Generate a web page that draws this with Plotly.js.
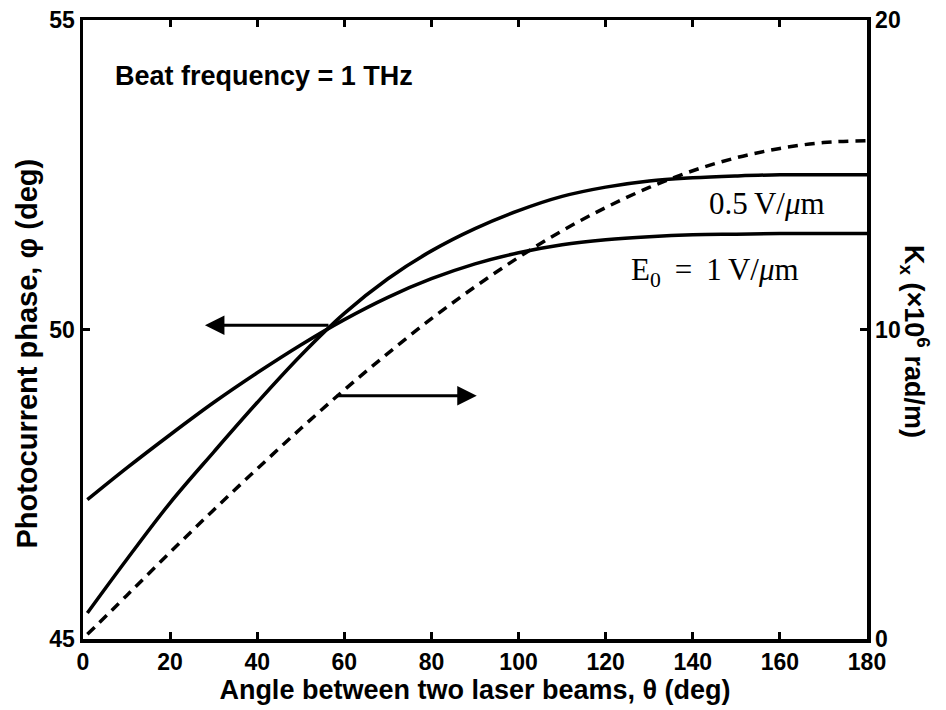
<!DOCTYPE html>
<html>
<head>
<meta charset="utf-8">
<script src="https://cdn.plot.ly/plotly-3.0.1.min.js"></script>
<style>html,body{margin:0;padding:0;background:#fff;}#chart{width:946px;height:710px;}</style>
</head>
<body>
<div id="chart"></div>
<script>
// Angle between two laser beams (deg)
const theta = [1, 10, 20, 30, 40, 50, 60, 70, 80, 90, 100, 110, 120, 130, 140, 150, 160, 170, 180];
// Photocurrent phase (deg), E0 = 1 V/um
const phaseE1 = [47.25, 47.76, 48.30, 48.82, 49.30, 49.75, 50.16, 50.52, 50.82, 51.06, 51.24, 51.37, 51.45, 51.50, 51.53, 51.54, 51.55, 51.55, 51.55];
// Photocurrent phase (deg), 0.5 V/um
const phaseE05 = [45.42, 46.28, 47.20, 48.02, 48.82, 49.58, 50.26, 50.82, 51.27, 51.63, 51.92, 52.15, 52.30, 52.40, 52.45, 52.48, 52.50, 52.50, 52.50];
// Kx (x10^6 rad/m)
const kx = [0.15, 1.40, 2.80, 4.17, 5.50, 6.80, 8.05, 9.23, 10.35, 11.38, 12.33, 13.19, 13.94, 14.59, 15.13, 15.55, 15.85, 16.04, 16.10];

const xTicks = [0, 20, 40, 60, 80, 100, 120, 140, 160, 180];
const yTicks = [45, 50, 55];
const y2Ticks = [0, 10, 20];

const SANS = 'Liberation Sans, Arial, sans-serif';
const SERIF = 'Liberation Serif, DejaVu Serif, serif';
const bold = v => '<b>' + v + '</b>';

const data = [
  {x: theta, y: phaseE1, type: 'scatter', mode: 'lines', line: {color: '#000', width: 3.5, shape: 'spline', smoothing: 1}, yaxis: 'y', hoverinfo: 'skip'},
  {x: theta, y: phaseE05, type: 'scatter', mode: 'lines', line: {color: '#000', width: 3.5, shape: 'spline', smoothing: 1}, yaxis: 'y', hoverinfo: 'skip'},
  {x: theta, y: kx, type: 'scatter', mode: 'lines', line: {color: '#000', width: 3.5, dash: '10px,7px', shape: 'spline', smoothing: 1}, yaxis: 'y2', hoverinfo: 'skip'}
];

const tickFont = {family: SANS, size: 23, color: '#000', weight: 700};

const layout = {
  width: 946, height: 710,
  margin: {l: 83, r: 79, t: 20, b: 71, pad: 0},
  paper_bgcolor: '#fff', plot_bgcolor: '#fff',
  showlegend: false,
  xaxis: {
    range: [0, 180], tickvals: xTicks, ticktext: xTicks.map(bold),
    ticks: 'inside', ticklen: 7, tickwidth: 3, tickcolor: '#000',
    showline: true, linewidth: 3.5, linecolor: '#000', mirror: 'ticks',
    showgrid: false, zeroline: false, tickfont: tickFont, automargin: false,
    title: {text: '<b>Angle between two laser beams, θ (deg)</b>', font: {family: SANS, size: 27, color: '#000'}, standoff: 0}
  },
  yaxis: {
    range: [45, 55], tickvals: yTicks, ticktext: yTicks.map(bold),
    ticks: 'inside', ticklen: 7, tickwidth: 3, tickcolor: '#000',
    showline: true, linewidth: 3.5, linecolor: '#000',
    showgrid: false, zeroline: false, tickfont: tickFont, automargin: false
  },
  yaxis2: {
    range: [0, 20], tickvals: y2Ticks, ticktext: y2Ticks.map(bold),
    overlaying: 'y', side: 'right',
    ticks: 'inside', ticklen: 7, tickwidth: 3, tickcolor: '#000',
    showline: true, linewidth: 3.5, linecolor: '#000',
    showgrid: false, zeroline: false, tickfont: tickFont, automargin: false
  },
  annotations: [
    {x: -0.0715, y: 0.461, xref: 'paper', yref: 'paper', text: '<b>Photocurrent phase, φ (deg)</b>', textangle: -90, showarrow: false,
     xanchor: 'center', yanchor: 'middle', font: {family: SANS, size: 29, color: '#000'}},
    {x: 1.0610, y: 0.48, xref: 'paper', yref: 'paper', text: '<b>K<sub>x</sub> (×10<sup>6</sup> rad/m)</b>', textangle: 90, showarrow: false,
     xanchor: 'center', yanchor: 'middle', font: {family: SANS, size: 27, color: '#000'}},
    {x: 6.9, y: 54.1, xref: 'x', yref: 'y', text: '<b>Beat frequency = 1 THz</b>', showarrow: false,
     xanchor: 'left', yanchor: 'middle', font: {family: SANS, size: 27, color: '#000'}},
    {x: 157, y: 52.04, xref: 'x', yref: 'y', text: '0.5&#8201;V/<i>μ</i>m', showarrow: false,
     xanchor: 'center', yanchor: 'middle', font: {family: SERIF, size: 31, color: '#000'}},
    {x: 145, y: 50.93, xref: 'x', yref: 'y', text: 'E<sub>0</sub>&#8201; = &#8201;1&#8201;V/<i>μ</i>m', showarrow: false,
     xanchor: 'center', yanchor: 'middle', font: {family: SERIF, size: 31, color: '#000'}},
    {x: 28.0, y: 50.07, xref: 'x', yref: 'y', ax: 56.7, ay: 50.07, axref: 'x', ayref: 'y', text: '',
     showarrow: true, arrowhead: 2, arrowsize: 1.3, arrowwidth: 3, arrowcolor: '#000', standoff: 0, startstandoff: 0},
    {x: 90.4, y: 48.93, xref: 'x', yref: 'y', ax: 57.9, ay: 48.93, axref: 'x', ayref: 'y', text: '',
     showarrow: true, arrowhead: 2, arrowsize: 1.3, arrowwidth: 3, arrowcolor: '#000', standoff: 0, startstandoff: 0}
  ]
};

Plotly.newPlot('chart', data, layout, {staticPlot: true, displayModeBar: false});
</script>
</body>
</html>
